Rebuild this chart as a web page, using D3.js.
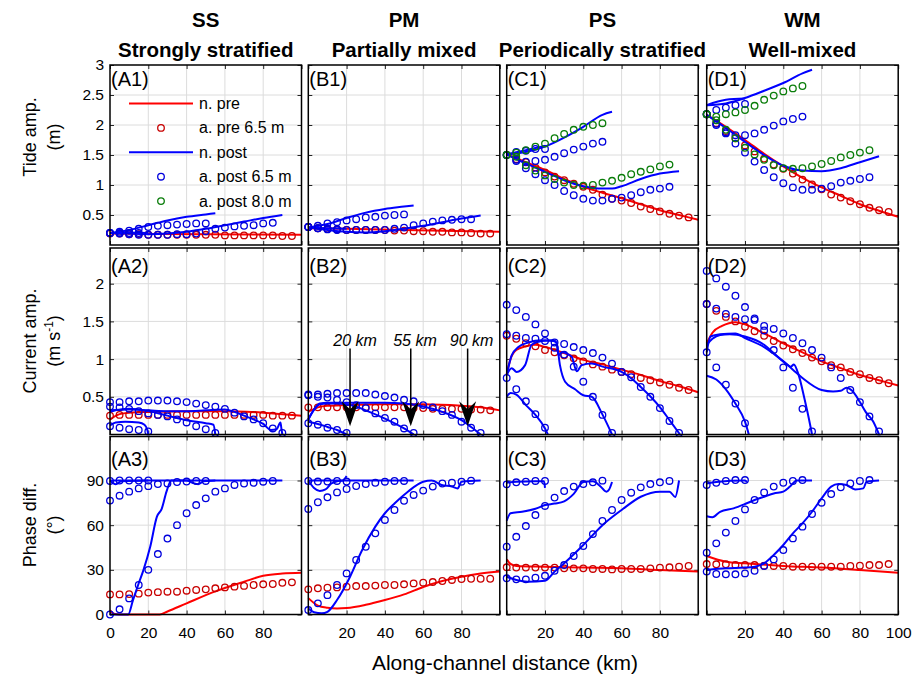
<!DOCTYPE html>
<html><head><meta charset="utf-8">
<script src="https://cdn.jsdelivr.net/npm/d3@7"></script>
<style>
body{margin:0;background:#fff}
svg{display:block}
text{font-family:Arial,"Liberation Sans",Helvetica,sans-serif;fill:#000}
</style>
</head><body>
<svg id="chart" width="917" height="682"></svg>
<script>
// ---------------- DATA ----------------
const kmSteps = [0,5,10,15,20,25,30,35,40,45,50,55,60,65,70,75,80,85,90,95];
const colTitles = ["SS","PM","PS","WM"];
const colSubtitles = ["Strongly stratified","Partially mixed","Periodically stratified","Well-mixed"];
const xTickValues = [0,20,40,60,80,100];
const xTickLabelsA = [0,20,40,60,80];
const xTickLabelsBC = [20,40,60,80];
const xTickLabelsD = [20,40,60,80,100];
const row1Ticks = [0.5,1,1.5,2,2.5,3];
const row2Ticks = [0.5,1,1.5,2];
const row3Ticks = [0,30,60,90];
const legendLabels = ["n. pre","a. pre 6.5 m","n. post","a. post 6.5 m","a. post 8.0 m"];
const arrowKm = [21.8,53.5,83.2];
const arrowTextKm = [24.4,55.7,85.3];
const arrowLabels = ["20 km","55 km","90 km"];

// Row 1: tide amplitude (m)
const A1_nPre = [[0,0.19],[50,0.18],[100,0.17]];
const A1_aPre = [0.19,0.19,0.18,0.18,0.17,0.17,0.17,0.17,0.17,0.17,0.17,0.17,0.16,0.16,0.16,0.16,0.16,0.16,0.15,0.15];
const A1_nPost20 = [[0,0.2],[10,0.21],[20,0.2]];
const A1_nPost55 = [[0,0.2],[10,0.25],[20,0.33],[30,0.41],[40,0.47],[50,0.51],[55,0.53]];
const A1_nPost90 = [[0,0.2],[10,0.19],[20,0.18],[30,0.19],[40,0.22],[50,0.27],[60,0.33],[70,0.39],[80,0.45],[90,0.5]];
const A1_aPost20 = [0.2,0.2,0.2,0.2];
const A1_aPost55 = [0.2,0.22,0.24,0.27,0.3,0.32,0.33,0.34,0.35,0.36,0.36];
const A1_aPost90 = [0.2,0.19,0.18,0.17,0.17,0.17,0.17,0.18,0.18,0.19,0.23,0.27,0.29,0.31,0.32,0.33,0.36,0.37];

const B1_nPre = [[0,0.28],[20,0.27],[50,0.25],[100,0.22]];
const B1_aPre = [0.3,0.28,0.27,0.26,0.25,0.25,0.25,0.25,0.25,0.24,0.24,0.23,0.23,0.22,0.22,0.21,0.21,0.2,0.19,0.19];
const B1_nPost20 = [[0,0.29],[10,0.28],[20,0.27]];
const B1_nPost55 = [[0,0.29],[10,0.35],[20,0.45],[30,0.54],[40,0.6],[50,0.64],[55,0.66]];
const B1_nPost90 = [[0,0.29],[10,0.25],[20,0.22],[30,0.21],[40,0.23],[50,0.27],[60,0.32],[70,0.38],[80,0.44],[90,0.49]];
const B1_aPost20 = [0.3,0.28,0.26,0.25];
const B1_aPost55 = [0.3,0.32,0.36,0.38,0.41,0.43,0.46,0.47,0.49,0.5,0.51];
const B1_aPost90 = [0.3,0.28,0.27,0.26,0.25,0.25,0.25,0.25,0.25,0.27,0.29,0.33,0.36,0.39,0.41,0.42,0.43,0.43];

const C1_nPre = [[0,1.51],[10,1.38],[20,1.25],[30,1.1],[40,0.97],[50,0.87],[60,0.78],[70,0.68],[80,0.58],[90,0.5],[100,0.42]];
const C1_aPre = [1.5,1.43,1.38,1.29,1.21,1.14,1.08,1.02,0.97,0.92,0.84,0.77,0.74,0.7,0.64,0.6,0.56,0.52,0.49,0.46];
const C1_nPost20 = [[0,1.51],[10,1.58],[20,1.65]];
const C1_nPost55 = [[0,1.51],[10,1.55],[20,1.64],[30,1.79],[40,1.97],[50,2.17],[55,2.22]];
const C1_nPost90 = [[0,1.51],[10,1.36],[20,1.22],[30,1.08],[40,0.98],[50,0.94],[55,0.94],[60,0.98],[70,1.1],[80,1.19],[90,1.23]];
const C1_aPost20 = [1.5,1.55,1.57,1.6,1.6];
const C1_aPost55 = [1.5,1.42,1.39,1.4,1.42,1.47,1.53,1.59,1.64,1.69,1.72];
const C1_aPost90 = [1.5,1.4,1.28,1.18,1.08,1.0,0.9,0.83,0.77,0.74,0.74,0.77,0.79,0.83,0.88,0.92,0.94,0.97];
const C1_a8_55 = [1.5,1.54,1.58,1.64,1.69,1.78,1.85,1.92,1.97,2.0,2.03];
const C1_a8_90 = [1.5,1.47,1.33,1.24,1.16,1.1,1.04,1.0,0.99,1.0,1.04,1.07,1.12,1.18,1.22,1.26,1.31,1.34];

const D1_nPre = [[0,2.17],[10,1.97],[20,1.75],[30,1.52],[40,1.31],[50,1.12],[60,0.96],[70,0.82],[80,0.68],[90,0.57],[100,0.47]];
const D1_aPre = [2.18,2.03,1.9,1.78,1.66,1.56,1.44,1.34,1.27,1.19,1.09,1.01,0.93,0.84,0.79,0.73,0.68,0.62,0.58,0.55];
const D1_nPost20 = [[0,2.33],[10,2.42],[20,2.44]];
const D1_nPost55 = [[0,2.33],[10,2.36],[20,2.45],[30,2.57],[40,2.7],[50,2.86],[55,2.92]];
const D1_nPost90 = [[0,2.17],[10,1.95],[20,1.72],[30,1.5],[40,1.32],[50,1.24],[60,1.23],[70,1.28],[80,1.38],[90,1.48]];
const D1_aPost20 = [2.18,2.25,2.29,2.33,2.35];
const D1_aPost55 = [2.18,2.0,1.86,1.83,1.83,1.86,1.92,1.99,2.06,2.1,2.14];
const D1_aPost90 = [2.18,2.02,1.88,1.69,1.54,1.39,1.25,1.13,1.03,0.96,0.92,0.92,0.94,0.98,1.04,1.07,1.1,1.13];
const D1_a8_55 = [2.18,2.14,2.18,2.21,2.25,2.32,2.42,2.49,2.56,2.61,2.65];
const D1_a8_90 = [2.18,2.08,1.92,1.78,1.62,1.51,1.42,1.33,1.28,1.27,1.28,1.31,1.35,1.4,1.46,1.5,1.54,1.58];

// Row 2: current amplitude (m s-1)
const A2_nPre = [[0,0.2],[5,0.27],[10,0.29],[20,0.3],[40,0.31],[60,0.31],[80,0.29],[100,0.25]];
const A2_aPre = [0.25,0.26,0.26,0.26,0.26,0.26,0.26,0.26,0.26,0.26,0.26,0.26,0.26,0.26,0.26,0.26,0.26,0.25,0.25,0.25];
const A2_nPost20 = [[0,0.12],[3,0.16],[8,0.17],[15,0.16],[18,0.13],[19.5,0.06],[20,0]];
const A2_nPost55 = [[0,0.3],[5,0.33],[10,0.34],[20,0.31],[30,0.25],[40,0.19],[50,0.15],[54,0.13],[55,0]];
const A2_nPost90 = [[0,0.32],[10,0.33],[20,0.32],[30,0.31],[40,0.31],[50,0.32],[60,0.33],[65,0.3],[70,0.25],[75,0.2],[80,0.14],[84,0.06],[87,0.07],[89,0.16],[89.5,0.08],[90,0]];
const A2_aPost20 = [0.11,0.09,0.07,0.06,0.04];
const A2_aPost55 = [0.37,0.36,0.34,0.31,0.28,0.26,0.24,0.2,0.16,0.11,0.07,0.02];
const A2_aPost90 = [0.43,0.43,0.44,0.44,0.45,0.45,0.45,0.44,0.43,0.41,0.39,0.37,0.34,0.29,0.24,0.2,0.15,0.08,0.02];

const B2_nPre = [[0,0.3],[5,0.36],[10,0.38],[20,0.39],[40,0.4],[60,0.4],[80,0.38],[90,0.36],[100,0.32]];
const B2_aPre = [0.36,0.36,0.36,0.36,0.36,0.36,0.36,0.36,0.36,0.36,0.36,0.35,0.35,0.34,0.34,0.34,0.34,0.33,0.33,0.32];
const B2_nPost20 = [[0,0.17],[5,0.14],[10,0.1],[15,0.06],[20,0]];
const B2_nPost55 = [[0,0.2],[3,0.33],[6,0.4],[10,0.41],[15,0.41],[20,0.4],[25,0.37],[30,0.32],[40,0.21],[50,0.08],[55,0]];
const B2_nPost90 = [[0,0.2],[3,0.33],[6,0.41],[10,0.42],[20,0.42],[30,0.42],[40,0.42],[50,0.41],[60,0.37],[70,0.3],[80,0.19],[85,0.1],[90,0]];
const B2_aPost20 = [0.15,0.13,0.09,0.06,0.02];
const B2_aPost55 = [0.52,0.5,0.49,0.46,0.43,0.39,0.35,0.28,0.22,0.17,0.08,0.02];
const B2_aPost90 = [0.53,0.53,0.54,0.55,0.55,0.55,0.55,0.53,0.51,0.49,0.46,0.44,0.39,0.36,0.31,0.26,0.17,0.09,0.02];

const C2_nPre = [[0,0.8],[2,1.0],[5,1.12],[10,1.17],[15,1.19],[20,1.16],[30,1.08],[40,0.99],[50,0.93],[60,0.86],[70,0.79],[80,0.71],[90,0.64],[100,0.56]];
const C2_aPre = [1.31,1.27,1.21,1.17,1.12,1.09,1.05,1.01,0.97,0.93,0.9,0.86,0.83,0.8,0.75,0.72,0.69,0.66,0.62,0.59];
const C2_nPost20 = [[0,0.5],[2,0.55],[5,0.53],[10,0.39],[15,0.26],[20,0.08],[21.5,0]];
const C2_nPost55 = [[0,0.79],[2.6,0.88],[5.2,0.83],[9.6,0.92],[13,1.19],[18.3,1.24],[24.4,1.25],[26,1.22],[27.8,0.92],[30.5,0.7],[35.7,0.6],[40,0.52],[44.4,0.5],[50.1,0.26],[55,0]];
const C2_nPost90 = [[0,0.79],[2.6,1.05],[6.1,1.16],[11.3,1.22],[18.3,1.25],[24.4,1.24],[26.1,1.21],[27,1.05],[28.7,1.09],[33.9,1.03],[36.6,0.84],[39.2,0.92],[44.4,0.94],[50.1,0.9],[60,0.83],[65.3,0.74],[70,0.63],[75.2,0.5],[80.4,0.35],[85.3,0.18],[90.5,0]];
const C2_aPost20 = [0.75,0.6,0.44,0.27,0.09];
const C2_aPost55 = [1.33,1.31,1.28,1.27,1.24,1.15,1.06,0.9,0.7,0.5,0.26,0.02];
const C2_aPost90 = [1.72,1.65,1.56,1.46,1.34,1.22,1.2,1.16,1.12,1.08,1.02,0.94,0.83,0.76,0.63,0.5,0.35,0.18,0.02];

const D2_nPre = [[0,1.21],[3,1.35],[8,1.44],[15,1.49],[20,1.46],[30,1.34],[40,1.21],[50,1.09],[60,0.97],[70,0.88],[80,0.79],[90,0.72],[100,0.65]];
const D2_aPre = [1.73,1.64,1.56,1.5,1.43,1.37,1.31,1.24,1.18,1.13,1.08,1.02,0.97,0.92,0.89,0.83,0.8,0.75,0.72,0.68];
const D2_nPost20 = [[0,0.78],[5,0.73],[10,0.6],[15,0.41],[20,0.17],[22,0]];
const D2_nPost55 = [[0,1.19],[3,1.27],[7,1.32],[12,1.33],[20,1.3],[30,1.19],[35,1.08],[40,0.97],[44,0.9],[45.5,0.93],[48,0.79],[51,0.48],[54,0.13],[55,0]];
const D2_nPost90 = [[0,1.09],[2,1.3],[7,1.33],[15,1.34],[20,1.28],[30,1.16],[40,0.97],[45,0.86],[50,0.75],[60,0.59],[66,0.57],[70,0.58],[73,0.62],[76,0.58],[80,0.43],[83,0.3],[87,0.17],[90,0]];
const D2_aPost20 = [1.09,0.89,0.66,0.41,0.15];
const D2_aPost55 = [1.73,1.67,1.6,1.56,1.53,1.52,1.38,1.12,0.89,0.62,0.34,0.04];
const D2_aPost90 = [2.17,2.07,1.96,1.84,1.69,1.54,1.44,1.4,1.34,1.28,1.21,1.12,1.02,0.89,0.75,0.59,0.43,0.24,0.04];

// Row 3: phase difference (deg)
const A3_nPre = [[0,3],[2,0.5],[5,0],[26,0],[30,2],[40,7.5],[55,15.5],[70,22],[80,26],[90,27.5],[100,28]];
const A3_aPre = [13.5,13.5,13.7,14,14.7,15,15.3,15.3,16,16.5,16.9,17.6,18.2,18.7,19.2,19.8,20.3,20.5,21.3,21.6];
const A3_nPost20 = [[0,90],[3,87.5],[6,89.5],[20,90]];
const A3_nPost55 = [[0,90],[20,90],[40,90],[43,88.5],[46,87.5],[49,89.5],[55,90]];
const A3_nPost90 = [[0,0],[9.5,0],[12,9.7],[15,21],[17.5,30],[21,45.5],[24.5,65.7],[27,71],[29.5,82.5],[32,90],[90,90]];
const A3_aPost20 = [89.7,90,90,90,90];
const A3_aPost55 = [76.5,79.8,82.5,84.7,86.2,87.6,88,89,89.3,89.7,89.7];
const A3_aPost90 = [0,3.5,10.8,19.8,30,40.6,51,60,68,73.5,78,82.5,84.7,87,88,88.5,89.2,89.7];

const B3_nPre = [[0,11],[5,6],[10,4.5],[15,4],[20,4.3],[30,6.5],[40,9.7],[50,13.5],[60,18.5],[70,22.5],[80,25.4],[90,27.5],[100,28.8]];
const B3_aPre = [16.9,17.6,18,18.2,18.7,19.1,19.1,19.4,19.8,19.8,20.3,20.9,21.4,21.8,22.5,23.2,23.8,24,24,24];
const B3_nPost20 = [[0,90],[3,85],[6,83],[9,84],[12,88],[15,89.5],[18,90],[20,93]];
const B3_nPost55 = [[0,90],[55,90]];
const B3_nPost90 = [[0,4],[3,1.5],[7,0.8],[10,1.8],[15,9.7],[21.8,25.4],[28,43],[35,59],[40,68],[45,74.6],[52,82.5],[60,89.2],[64.4,90],[69.6,87],[75,86],[78,84.7],[80,89.2],[90,90]];
const B3_aPost20 = [89.7,89.3,89.3,89.7,89.3];
const B3_aPost55 = [70.9,75.4,78.7,82,84.3,86.3,87.6,88.5,89.2,89.7,89.7];
const B3_aPost90 = [3,7.5,13,19.8,27.6,36.6,45.5,54.5,63.5,70.2,76.4,80.3,83.2,85.9,88,88.5,89.2,89.9];

const C3_nPre = [[0,37],[2,34],[5,32.6],[20,32.1],[40,31.5],[60,31],[80,29.9],[100,28.8]];
const C3_aPre = [31.7,31.5,31.5,31.5,31.5,31.5,31,31,31,30.6,30.6,30.3,30.6,30.6,30.6,31,31.5,31.7,32.1,32.6];
const C3_nPost20 = [[0,88.5],[5,89.2],[15,89.5],[19.5,89.5],[20,85]];
const C3_nPost55 = [[0,63],[2,68],[8,69],[15,71],[20,73.5],[25,74.5],[30,76],[35,81],[40,89],[45,89.5],[49,86],[52,82.5],[53.5,84],[55,89]];
const C3_nPost90 = [[0,25.4],[5,23.2],[11,22],[20,22.7],[25,28.8],[30,34.4],[40,46.7],[50,60],[60,70.2],[70,79.1],[80,82.5],[85,82.5],[88,79],[90,90]];
const C3_aPost20 = [87.4,88.8,89.2,89.7,89.7];
const C3_aPost55 = [45.5,52.2,59.4,66.8,72.9,78.5,82.9,85.9,87.6,88.8,89.9];
const C3_aPost90 = [24.3,23.6,23.6,24.7,26,29.4,33.2,39.3,46,54,62.8,70.2,76.9,81.8,85.4,87.6,88.8,89.7];

const D3_nPre = [[0,39.3],[10,35.5],[20,34.4],[40,32.6],[60,31.5],[80,29.9],[100,28.1]];
const D3_aPre = [33.9,33.7,33.7,33.2,33.2,33.2,32.8,32.6,32.6,32.1,32.1,32.1,32.1,32.1,32.1,32.6,32.8,33.2,33.2,33.9];
const D3_nPost20 = [[0,88],[5,89],[20,90],[21,89]];
const D3_nPost55 = [[0,66],[3,65.3],[7,69],[14,71.3],[20,74.2],[25,76.9],[30,79.1],[35,81.3],[40,82.5],[43.5,85.9],[47,90],[55,90]];
const D3_nPost90 = [[0,29.9],[10,31],[20,31.5],[25,32.1],[30,34.4],[35,40],[40,46.7],[45,54.5],[50,61.2],[55,69],[60,78],[65,85.9],[68.8,87.6],[73,87],[77.5,84],[81.8,84.7],[83.5,89.2],[90,90]];
const D3_aPost20 = [87,88.5,89.7,90.3,90.3];
const D3_aPost55 = [41.5,47.8,55,62.8,70.6,76.9,82,85.9,88.5,89.7,90.3];
const D3_aPost90 = [28.8,27.2,27,27,27.6,29.4,32.6,37,43.3,51.1,59,67.5,75.1,80.9,85.4,88,89.7,90.3];

// ---------------- LAYOUT ----------------
const RED = "#ff0000", RED_C = "#c80000", BLUE = "#0000ff", BLUE_C = "#0000dd", GREEN = "#0a7d0a", GRID = "#dcdcdc";
const colLeft = [110, 308.3, 506.7, 706.7], colW = 191.5;
const rowDefs = [
  {top:65,    bottom:245,   dom:[0,3],  rng:[245,65],     ticks:row1Ticks, grid:[0.5,1,1.5,2,2.5], labelBase:86,  ylab:["Tide amp.","(m)"], ylabY:137},
  {top:248,   bottom:434.5, dom:[0,2],  rng:[434.5,283.7], ticks:row2Ticks, grid:[0.5,1,1.5,2],     labelBase:273, ylab:["Current amp.",null], ylabY:341},
  {top:436.5, bottom:614.5, dom:[0,90], rng:[614.5,480.5], ticks:row3Ticks, grid:[30,60,90],        labelBase:466, ylab:["Phase diff.","(°)"], ylabY:525}
];
const panels = [
  {id:"A1",c:0,r:0,nPre:A1_nPre,aPre:A1_aPre,nPost:[A1_nPost20,A1_nPost55,A1_nPost90],aPost:[A1_aPost20,A1_aPost55,A1_aPost90],a8:[]},
  {id:"B1",c:1,r:0,nPre:B1_nPre,aPre:B1_aPre,nPost:[B1_nPost20,B1_nPost55,B1_nPost90],aPost:[B1_aPost20,B1_aPost55,B1_aPost90],a8:[]},
  {id:"C1",c:2,r:0,nPre:C1_nPre,aPre:C1_aPre,nPost:[C1_nPost20,C1_nPost55,C1_nPost90],aPost:[C1_aPost20,C1_aPost55,C1_aPost90],a8:[C1_a8_55,C1_a8_90]},
  {id:"D1",c:3,r:0,nPre:D1_nPre,aPre:D1_aPre,nPost:[D1_nPost20,D1_nPost55,D1_nPost90],aPost:[D1_aPost20,D1_aPost55,D1_aPost90],a8:[D1_a8_55,D1_a8_90]},
  {id:"A2",c:0,r:1,nPre:A2_nPre,aPre:A2_aPre,nPost:[A2_nPost20,A2_nPost55,A2_nPost90],aPost:[A2_aPost20,A2_aPost55,A2_aPost90],a8:[]},
  {id:"B2",c:1,r:1,nPre:B2_nPre,aPre:B2_aPre,nPost:[B2_nPost20,B2_nPost55,B2_nPost90],aPost:[B2_aPost20,B2_aPost55,B2_aPost90],a8:[]},
  {id:"C2",c:2,r:1,nPre:C2_nPre,aPre:C2_aPre,nPost:[C2_nPost20,C2_nPost55,C2_nPost90],aPost:[C2_aPost20,C2_aPost55,C2_aPost90],a8:[]},
  {id:"D2",c:3,r:1,nPre:D2_nPre,aPre:D2_aPre,nPost:[D2_nPost20,D2_nPost55,D2_nPost90],aPost:[D2_aPost20,D2_aPost55,D2_aPost90],a8:[]},
  {id:"A3",c:0,r:2,nPre:A3_nPre,aPre:A3_aPre,nPost:[A3_nPost20,A3_nPost55,A3_nPost90],aPost:[A3_aPost20,A3_aPost55,A3_aPost90],a8:[]},
  {id:"B3",c:1,r:2,nPre:B3_nPre,aPre:B3_aPre,nPost:[B3_nPost20,B3_nPost55,B3_nPost90],aPost:[B3_aPost20,B3_aPost55,B3_aPost90],a8:[]},
  {id:"C3",c:2,r:2,nPre:C3_nPre,aPre:C3_aPre,nPost:[C3_nPost20,C3_nPost55,C3_nPost90],aPost:[C3_aPost20,C3_aPost55,C3_aPost90],a8:[]},
  {id:"D3",c:3,r:2,nPre:D3_nPre,aPre:D3_aPre,nPost:[D3_nPost20,D3_nPost55,D3_nPost90],aPost:[D3_aPost20,D3_aPost55,D3_aPost90],a8:[]}
];
const xLabelSets = [xTickLabelsA, xTickLabelsBC, xTickLabelsBC, xTickLabelsD];

const svg = d3.select("#chart");
svg.append("rect").attr("width",917).attr("height",682).attr("fill","#fff");
const fmt = d3.format("~g");
const CR = 3.3;

panels.forEach(p => {
  const R = rowDefs[p.r];
  const x = d3.scaleLinear().domain([0,100]).range([colLeft[p.c], colLeft[p.c]+colW]);
  const y = d3.scaleLinear().domain(R.dom).range(R.rng);
  const g = svg.append("g").attr("class","panel-"+p.id);
  const L = x(0), Rr = x(100), T = R.top, B = R.bottom;

  // grid
  g.append("g").selectAll("line").data([20,40,60,80]).join("line")
    .attr("x1",d=>x(d)).attr("x2",d=>x(d)).attr("y1",T).attr("y2",B)
    .attr("stroke",GRID).attr("stroke-width",1);
  g.append("g").selectAll("line").data(R.grid).join("line")
    .attr("y1",d=>y(d)).attr("y2",d=>y(d)).attr("x1",L).attr("x2",Rr)
    .attr("stroke",GRID).attr("stroke-width",1);

  // axes (inward ticks)
  const labelsX = xLabelSets[p.c];
  const axB = d3.axisBottom(x).tickValues(xTickValues).tickSize(-4).tickPadding(12)
    .tickFormat(d => (p.r===2 && labelsX.includes(d)) ? fmt(d) : "");
  const axT = d3.axisTop(x).tickValues(xTickValues).tickSize(-4).tickFormat("");
  const axL = d3.axisLeft(y).tickValues(R.ticks).tickSize(-4).tickPadding(6)
    .tickFormat(d => p.c===0 ? fmt(d) : "");
  const axR = d3.axisRight(y).tickValues(R.ticks).tickSize(-4).tickFormat("");
  [[axB,`translate(0,${B})`],[axT,`translate(0,${T})`],[axL,`translate(${L},0)`],[axR,`translate(${Rr},0)`]].forEach(([ax,tr])=>{
    const ag = g.append("g").attr("transform",tr).call(ax);
    ag.select(".domain").remove();
    ag.selectAll(".tick line").attr("stroke","#262626");
    ag.selectAll("text").attr("font-size",15.5).attr("font-family","Arial, 'Liberation Sans', sans-serif").attr("fill","#262626");
  });

  const line = d3.line().x(d=>x(d[0])).y(d=>y(d[1])).curve(d3.curveMonotoneX);
  const pts = arr => arr.map((v,i)=>[kmSteps[i],v]);
  const circles = (arr,color) => g.append("g").selectAll("circle").data(pts(arr)).join("circle")
      .attr("cx",d=>x(d[0])).attr("cy",d=>y(d[1])).attr("r",CR)
      .attr("fill","none").attr("stroke",color).attr("stroke-width",1.3);

  g.append("path").datum(p.nPre).attr("d",line).attr("fill","none").attr("stroke",RED).attr("stroke-width",2);
  circles(p.aPre, RED_C);
  p.nPost.forEach(s => g.append("path").datum(s).attr("d",line).attr("fill","none").attr("stroke",BLUE).attr("stroke-width",2));
  p.aPost.forEach(s => circles(s, BLUE_C));
  p.a8.forEach(s => circles(s, GREEN));

  // frame
  g.append("rect").attr("x",L).attr("y",T).attr("width",Rr-L).attr("height",B-T)
    .attr("fill","none").attr("stroke","#000").attr("stroke-width",1.5);

  // panel label
  g.append("text").attr("x",L+1).attr("y",R.labelBase).attr("font-size",20).text("("+p.id+")");

  // legend in A1
  if (p.id==="A1") {
    const types = ["line","circle","line","circle","circle"];
    const colors = [RED,RED_C,BLUE,BLUE_C,GREEN];
    legendLabels.forEach((lab,i)=>{
      const cy = T + 38.5 + i*24.4;
      if (types[i]==="line") g.append("line").attr("x1",L+19).attr("x2",L+83).attr("y1",cy).attr("y2",cy).attr("stroke",colors[i]).attr("stroke-width",2);
      else g.append("circle").attr("cx",L+51).attr("cy",cy).attr("r",CR).attr("fill","none").attr("stroke",colors[i]).attr("stroke-width",1.3);
      g.append("text").attr("x",L+89).attr("y",cy+5.5).attr("font-size",16).text(lab);
    });
  }

  // arrows in B2
  if (p.id==="B2") {
    arrowKm.forEach((k,i)=>{
      const ax = x(k), tip = y(0.11), tail = y(1.14);
      g.append("line").attr("x1",ax).attr("x2",ax).attr("y1",tail).attr("y2",tip-10).attr("stroke","#000").attr("stroke-width",1.5);
      g.append("path").attr("d",`M${ax},${tip} L${ax-8.5},${tip-25} L${ax},${tip-17} L${ax+8.5},${tip-25} Z`).attr("fill","#000");
      g.append("text").attr("x",x(arrowTextKm[i])).attr("y",y(1.25)+5.5).attr("text-anchor","middle")
        .attr("font-size",16).attr("font-style","italic").text(arrowLabels[i]);
    });
  }
});

// column titles
colTitles.forEach((t,i)=>{
  const cx = colLeft[i] + colW/2;
  svg.append("text").attr("x",cx).attr("y",27).attr("text-anchor","middle").attr("font-size",20.5).attr("font-weight","bold").text(t);
  svg.append("text").attr("x",cx).attr("y",57).attr("text-anchor","middle").attr("font-size",20.5).attr("font-weight","bold").text(colSubtitles[i]);
});

// y-axis labels
rowDefs.forEach(R=>{
  const cy = R.ylabY;
  svg.append("text").attr("transform",`translate(36,${cy}) rotate(-90)`).attr("text-anchor","middle").attr("font-size",18).text(R.ylab[0]);
  const t2 = svg.append("text").attr("transform",`translate(60,${cy}) rotate(-90)`).attr("text-anchor","middle").attr("font-size",18);
  if (R.ylab[1]) t2.text(R.ylab[1]);
  else {
    t2.append("tspan").text("(m s");
    t2.append("tspan").attr("font-size",12).attr("dy",-7).text("-1");
    t2.append("tspan").attr("dy",7).text(")");
  }
});

// x-axis label
svg.append("text").attr("x",505).attr("y",670).attr("text-anchor","middle").attr("font-size",21).text("Along-channel distance (km)");
</script>
</body></html>
